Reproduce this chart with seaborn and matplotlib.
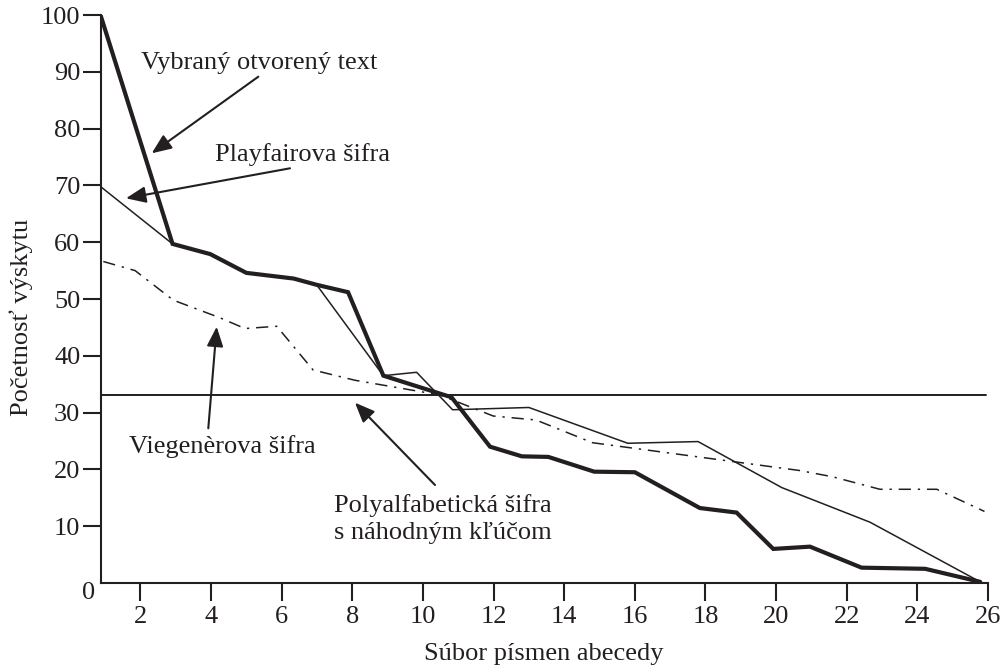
import matplotlib
matplotlib.use("Agg")
import matplotlib.pyplot as plt
import seaborn as sns
from matplotlib.patches import ArrowStyle

# ---------------- data ----------------
plain_x = [0.87, 2.91, 3.98, 5.0, 6.34, 6.99, 7.88, 8.88, 10.81, 11.9, 12.8,
           13.55, 14.85, 16.0, 17.84, 18.88, 19.92, 20.96, 22.42, 24.22, 25.78]
plain_y = [100, 59.7, 57.9, 54.6, 53.6, 52.5, 51.2, 36.5, 32.7, 24.0, 22.3,
           22.2, 19.6, 19.5, 13.2, 12.4, 6.0, 6.4, 2.7, 2.5, 0.2]

playfair_x = [0.87, 2.91, 3.98, 5.0, 6.34, 6.99, 8.88, 9.82, 10.84, 13.0,
              15.8, 17.79, 20.16, 22.66, 25.78]
playfair_y = [69.8, 59.7, 57.9, 54.6, 53.6, 52.5, 36.5, 37.1, 30.5, 30.9,
              24.6, 24.9, 16.8, 10.7, 0.2]

vigenere_x = [0.95, 1.85, 2.93, 4.25, 4.96, 5.86, 6.89, 8.07, 10.48, 11.99,
              13.2, 14.8, 20.67, 21.6, 22.94, 24.55, 25.9]
vigenere_y = [56.6, 55.0, 49.8, 46.7, 44.8, 45.2, 37.5, 35.7, 33.1, 29.4,
              28.7, 24.7, 19.8, 18.7, 16.5, 16.5, 12.6]

random_key_x = [0.87, 25.95]
random_key_y = [33.1, 33.1]

x_ticks = [2, 4, 6, 8, 10, 12, 14, 16, 18, 20, 22, 24, 26]
y_ticks = [10, 20, 30, 40, 50, 60, 70, 80, 90, 100]

labels = ["Vybraný otvorený text", "Playfairova šifra", "Viegenèrova šifra",
          "Polyalfabetická šifra\ns náhodným kľúčom"]
x_label = "Súbor písmen abecedy"
y_label = "Početnosť výskytu"

# ---------------- style ----------------
sns.set_style("ticks")
plt.rcParams["font.family"] = ["Liberation Serif", "DejaVu Serif"]
INK = "#231f20"
FS = 19

fig = plt.figure(figsize=(10.07, 6.70), dpi=100)
ax = fig.add_axes([100.5 / 1007, 1 - 583 / 670, (988 - 100.5) / 1007, (583 - 15) / 670])

sns.lineplot(x=random_key_x, y=random_key_y, ax=ax, color=INK, lw=1.4, sort=False)
sns.lineplot(x=vigenere_x, y=vigenere_y, ax=ax, color=INK, lw=1.1, sort=False,
             linestyle=(0, (8, 4.5, 1.5, 4.5)))
sns.lineplot(x=playfair_x, y=playfair_y, ax=ax, color=INK, lw=1.1, sort=False)
sns.lineplot(x=plain_x, y=plain_y, ax=ax, color=INK, lw=3.0, sort=False,
             solid_joinstyle="miter")

ax.set_xlim(0.87, 26.0)
ax.set_ylim(0, 100)
ax.set_xticks(x_ticks)
ax.set_yticks(y_ticks)
ax.set_xticklabels([str(t) for t in x_ticks])
ax.set_yticklabels([str(t) for t in y_ticks])

sns.despine(ax=ax)
for s in ("left", "bottom"):
    ax.spines[s].set_linewidth(1.5)
    ax.spines[s].set_color(INK)

ax.tick_params(axis="x", direction="out", length=13, width=1.5, pad=3.5,
               labelsize=FS, colors=INK)
ax.tick_params(axis="y", direction="out", length=13, width=1.5, pad=1.5,
               labelsize=FS, colors=INK)

ax.text(-0.013, -0.0176, "0", transform=ax.transAxes, ha="center", va="center",
        fontsize=FS, color=INK)

ax.set_xlabel(x_label, fontsize=FS, color=INK)
ax.set_ylabel(y_label, fontsize=FS, color=INK)
ax.xaxis.set_label_coords(0.5, -0.106)
ax.yaxis.set_label_coords(-0.076, 0.468)

arrow = dict(arrowstyle=ArrowStyle("-|>", head_length=0.6, head_width=0.25),
             mutation_scale=20, color=INK, lw=1.5, shrinkA=0, shrinkB=0)

def fx(px):
    return (px - 100.5) / 887.5

def fy(py):
    return (583 - py) / 568

# annotations: text center, arrow start, arrow tip (pixels)
ax.text(fx(259), fy(63), labels[0], transform=ax.transAxes, ha="center",
        va="center", fontsize=FS, color=INK)
ax.annotate("", xy=(fx(151.7), fy(153.3)), xytext=(fx(258.3), fy(76.7)),
            xycoords="axes fraction", textcoords="axes fraction", arrowprops=arrow)

ax.text(fx(302.5), fy(155), labels[1], transform=ax.transAxes, ha="center",
        va="center", fontsize=FS, color=INK)
ax.annotate("", xy=(fx(126), fy(198.3)), xytext=(fx(290), fy(168.3)),
            xycoords="axes fraction", textcoords="axes fraction", arrowprops=arrow)

ax.text(fx(222), fy(446.7), labels[2], transform=ax.transAxes, ha="center",
        va="center", fontsize=FS, color=INK)
ax.annotate("", xy=(fx(216.7), fy(326.7)), xytext=(fx(208.3), fy(428.3)),
            xycoords="axes fraction", textcoords="axes fraction", arrowprops=arrow)

ax.text(fx(334), fy(519), labels[3], transform=ax.transAxes, ha="left",
        va="center", fontsize=FS, color=INK, linespacing=1.35)
ax.annotate("", xy=(fx(355), fy(402.7)), xytext=(fx(435), fy(485)),
            xycoords="axes fraction", textcoords="axes fraction", arrowprops=arrow)

fig.savefig("out.png", dpi=100)
